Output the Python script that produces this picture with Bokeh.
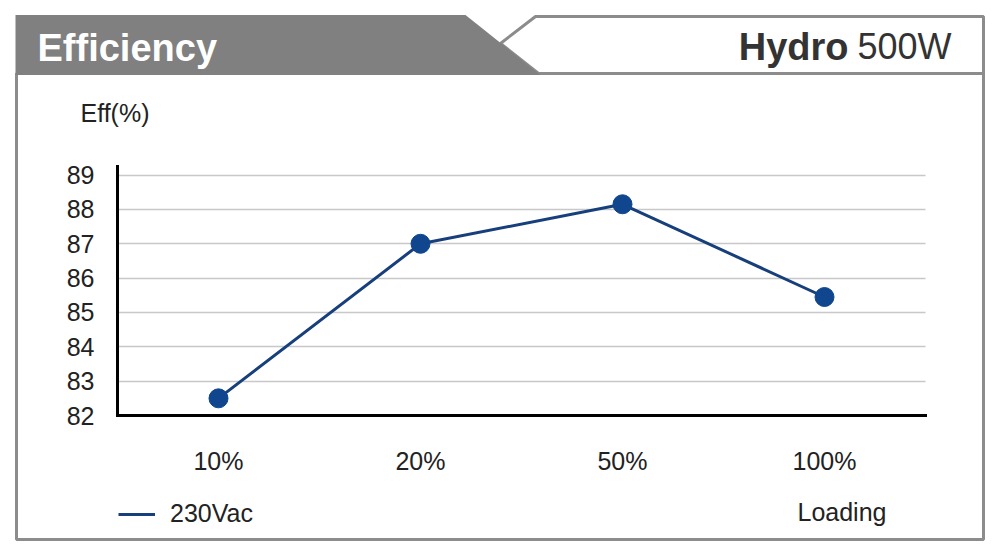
from bokeh.plotting import figure
from bokeh.models import (PolyAnnotation, Label, Legend, LegendItem, ColumnDataSource,
                          FixedTicker, Range1d, LinearAxis, Grid)
from bokeh.embed import file_html
from bokeh.resources import INLINE

# ---- data ----
loads = ["10%", "20%", "50%", "100%"]
eff_230vac = [82.5, 87.0, 88.15, 85.45]
y_ticks = [82, 83, 84, 85, 86, 87, 88, 89]
series_name = "230Vac"

# ---- layout constants (canvas pixels) ----
W, H = 995, 552
FL, FR, FT, FB = 117, 925, 166, 415      # chart area
Y0, Y1 = 82, 89.25                        # value range of chart area
FONT = "Liberation Sans"
LINE_COLOR = "#173f7c"
MARK_COLOR = "#0f468e"
BORDER = "#8c8c8c"

x_pos = list(range(len(loads)))
X0, X1 = x_pos[0] - 0.5, x_pos[-1] + 0.5
xpp = (FR - FL) / (X1 - X0)
ypp = (FB - FT) / (Y1 - Y0)
x_range = Range1d(X0 - FL / xpp, X1 + (W - FR) / xpp)
y_range = Range1d(Y0 - (H - FB) / ypp, Y1 + FT / ypp)

p = figure(width=W, height=H, x_range=x_range, y_range=y_range, title=None,
           x_axis_type=None, y_axis_type=None,
           output_backend="svg", toolbar_location=None, min_border=0)
p.outline_line_color = None
p.background_fill_color = "white"
p.border_fill_color = "white"
p.grid.visible = False

# grid lines
ygrid = Grid(dimension=1, ticker=FixedTicker(ticks=y_ticks),
             grid_line_color="#c8c8c8", grid_line_width=1.5)
if "cross_bounds" in Grid.properties():
    ygrid.cross_bounds = (X0, X1)
    p.add_layout(ygrid)
else:
    p.segment(x0=[X0] * len(y_ticks), x1=[X1] * len(y_ticks), y0=y_ticks, y1=y_ticks,
              line_color="#c8c8c8", line_width=1.5)

src = ColumnDataSource(dict(x=x_pos, eff=eff_230vac))
r_line = p.line(x="x", y="eff", source=src, line_width=3, line_color=LINE_COLOR)
p.scatter(x="x", y="eff", source=src, size=19, fill_color=MARK_COLOR, line_color=MARK_COLOR)

# axes
xaxis = LinearAxis(ticker=FixedTicker(ticks=x_pos),
                   major_label_overrides={i: s for i, s in zip(x_pos, loads)},
                   fixed_location=Y0, bounds=(X0, X1))
yaxis = LinearAxis(ticker=FixedTicker(ticks=y_ticks), fixed_location=X0, bounds=(Y0, Y1))
for ax in (xaxis, yaxis):
    ax.axis_line_width = 3
    ax.axis_line_color = "black"
    ax.axis_line_cap = "square"
    ax.major_tick_line_color = None
    ax.minor_tick_line_color = None
    ax.major_tick_out = 0
    ax.major_tick_in = 0
    ax.major_label_text_font = FONT
    ax.major_label_text_font_size = "25px"
    ax.major_label_text_color = "#222222"
yaxis.major_label_standoff = 23
xaxis.major_label_standoff = 31
p.add_layout(xaxis, "below")
p.add_layout(yaxis, "left")


def poly(pts, fill=None, line=None, lw=3):
    p.add_layout(PolyAnnotation(
        xs=[a for a, b in pts], ys=[H - b for a, b in pts],
        xs_units="screen", ys_units="screen",
        fill_color=fill if fill else "white", fill_alpha=1 if fill else 0,
        line_color=line if line else "white", line_alpha=1 if line else 0, line_width=lw))


def lab(text, X, Y, size, bold=False, color="#222222", align="left"):
    p.add_layout(Label(x=X, y=H - Y, x_units="screen", y_units="screen", text=text,
                       text_font=FONT, text_font_size=f"{size}px",
                       text_font_style="bold" if bold else "normal",
                       text_color=color, text_align=align, text_baseline="alphabetic"))


# frame decorations
poly([(16, 73), (983, 73), (983, 539), (16, 539)], line=BORDER, lw=3)
poly([(500, 43), (535, 16), (983, 16), (983, 73), (538, 73)], fill="white", line=BORDER, lw=3)
poly([(15, 14.5), (465, 14.5), (540, 74.5), (15, 74.5)], fill="#808080")

lab("Efficiency", 37, 47, 38, bold=True, color="white")
lab("500W", 951, 46, 36, color="#333333", align="right")
lab("Hydro", 848, 46, 38, bold=True, color="#333333", align="right")
lab("Eff(%)", 80, 112, 25)
lab("Loading", 797, 511, 25)

legend = Legend(items=[LegendItem(label=series_name, renderers=[r_line])],
                location=(118, H - 528), padding=0, margin=0, spacing=0,
                glyph_width=37, glyph_height=28, label_height=28, label_standoff=15,
                border_line_color=None, background_fill_alpha=0,
                label_text_font=FONT, label_text_font_size="25px",
                label_text_color="#222222")
p.add_layout(legend)

open("out.html", "w").write(file_html(p, INLINE))
